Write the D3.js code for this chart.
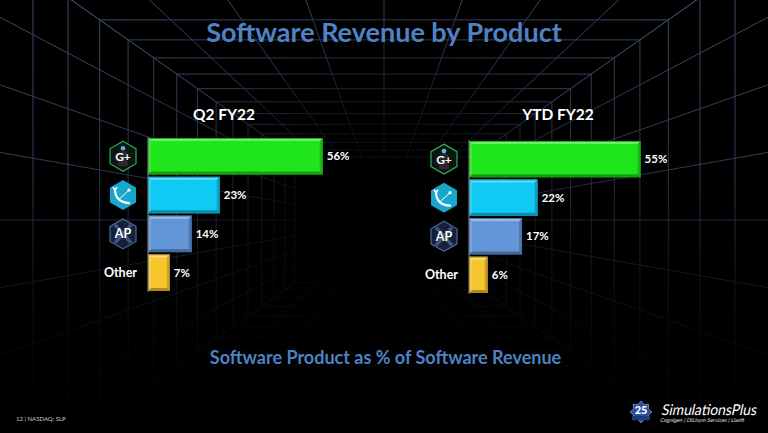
<!DOCTYPE html>
<html>
<head>
<meta charset="utf-8">
<script src="https://cdn.jsdelivr.net/npm/d3@7/dist/d3.min.js"></script>
<style>
  html, body { margin: 0; padding: 0; background: #000; }
  svg { display: block; }
  text { font-family: Lato, "Open Sans", "DejaVu Sans", sans-serif; }
</style>
</head>
<body>
<svg id="chart" width="768" height="433"></svg>
<script>
// ---------------- data ----------------
const categories = ["GastroPlus", "MonolixSuite", "ADMET Predictor", "Other"];
const q2Values = [56, 23, 14, 7];
const ytdValues = [55, 22, 17, 6];
const panelTitles = ["Q2 FY22", "YTD FY22"];
const barColors = ["#1fe51b", "#10caf3", "#6296d6", "#f6c62e"];
const barEdges = ["#159e12", "#0a8fb0", "#3f6aa3", "#b08a14"];
const mainTitle = "Software Revenue by Product";
const subTitle = "Software Product as % of Software Revenue";
const footerText = "12 | NASDAQ: SLP";

// ---------------- setup ----------------
const W = 768, H = 433;
const svg = d3.select("#chart");
svg.append("rect").attr("width", W).attr("height", H).attr("fill", "#000");
const defs = svg.append("defs");

// ---------------- background tunnel grid ----------------
const vx = 384, vy = 220, aspect = 0.704;
const lin = defs.append("linearGradient").attr("id", "vfade")
  .attr("gradientUnits", "userSpaceOnUse").attr("x1", 0).attr("y1", 0).attr("x2", 0).attr("y2", H);
[[0, 1], [0.4, 0.8], [0.62, 0.35], [0.78, 0.12], [1, 0.02]].forEach(([o, a]) =>
  lin.append("stop").attr("offset", o).attr("stop-color", "#fff").attr("stop-opacity", a));
defs.append("mask").attr("id", "mV").attr("maskUnits", "userSpaceOnUse")
  .attr("x", 0).attr("y", 0).attr("width", W).attr("height", H)
  .append("rect").attr("width", W).attr("height", H).attr("fill", "url(#vfade)");
const rad = defs.append("radialGradient").attr("id", "rfade")
  .attr("gradientUnits", "userSpaceOnUse").attr("cx", vx).attr("cy", vy).attr("r", 330);
[[0, 0.05], [0.3, 0.3], [0.6, 0.8], [1, 1]].forEach(([o, a]) =>
  rad.append("stop").attr("offset", o).attr("stop-color", "#fff").attr("stop-opacity", a));
defs.append("mask").attr("id", "mR").attr("maskUnits", "userSpaceOnUse")
  .attr("x", 0).attr("y", 0).attr("width", W).attr("height", H)
  .append("rect").attr("width", W).attr("height", H).attr("fill", "url(#rfade)");

const gridOuter = svg.append("g").attr("mask", "url(#mV)");
const grid = gridOuter.append("g").attr("mask", "url(#mR)")
  .attr("fill", "none").attr("stroke", "#3a4b6c").attr("stroke-width", 1);
const depthScale = d3.range(1, 15).map(k => 390 * Math.pow(0.9, k));
grid.selectAll("rect.ring").data(depthScale).join("rect").attr("class", "ring")
  .attr("x", w => vx - w).attr("y", w => vy - w * aspect)
  .attr("width", w => 2 * w).attr("height", w => 2 * w * aspect);
const Wf = 625, Hf = Wf * aspect, inner = depthScale[depthScale.length - 1] / Wf;
const rays = [];
d3.range(-4, 5).forEach(j => {
  rays.push([vx + Wf * j / 4, vy - Hf]);
  rays.push([vx + Wf * j / 4, vy + Hf]);
  rays.push([vx - Wf, vy + Hf * j / 4]);
  rays.push([vx + Wf, vy + Hf * j / 4]);
});
grid.selectAll("line.ray").data(rays).join("line").attr("class", "ray")
  .attr("x1", d => vx + (d[0] - vx) * inner).attr("y1", d => vy + (d[1] - vy) * inner)
  .attr("x2", d => d[0]).attr("y2", d => d[1]);

// ---------------- titles ----------------
svg.append("text").attr("x", 384).attr("y", 42).attr("text-anchor", "middle")
  .attr("font-size", 27).attr("font-weight", 700).attr("fill", "#4f82c4")
  .text(mainTitle);
svg.append("text").attr("x", 385.5).attr("y", 364).attr("text-anchor", "middle")
  .attr("font-size", 18).attr("font-weight", 700).attr("fill", "#4f82c4")
  .text(subTitle);
svg.append("text").attr("x", 16).attr("y", 421).attr("font-size", 6).attr("fill", "#c8c8c8")
  .text(footerText);

// ---------------- icons ----------------
function hexPath(r) {
  const pts = d3.range(6).map(i => {
    const a = Math.PI / 180 * (60 * i - 90);
    return [r * Math.cos(a), r * Math.sin(a)];
  });
  return d3.line()(pts) + "Z";
}
function drawIcon(g, cat) {
  if (cat === "GastroPlus") {
    g.append("path").attr("d", hexPath(15)).attr("fill", "#0b1511").attr("stroke", "#2bb04a").attr("stroke-width", 1.2);
    g.append("circle").attr("cx", 0).attr("cy", -8).attr("r", 2.3).attr("fill", "#5fb3e6");
    g.append("path").attr("d", "M-4,-5 L4,-5 L5,10 L-5,10 Z").attr("fill", "#3a2a3a").attr("opacity", 0.8);
    g.append("text").attr("x", 0).attr("y", 4.5).attr("text-anchor", "middle")
      .attr("font-size", 12).attr("font-weight", 700).attr("fill", "#fff").attr("stroke", "#0b1511").attr("stroke-width", 0.6)
      .attr("paint-order", "stroke").text("G+");
  } else if (cat === "MonolixSuite") {
    g.append("path").attr("d", hexPath(15)).attr("fill", "#17a6cc");
    g.append("path").attr("d", "M-8,-6 Q-8,7 6,8").attr("fill", "none").attr("stroke", "#fff").attr("stroke-width", 2.2).attr("stroke-linecap", "round");
    g.append("path").attr("d", "M-6,-8 L-8,-5 L-10,-8").attr("fill", "none").attr("stroke", "#fff").attr("stroke-width", 1.6);
    g.append("line").attr("x1", -5).attr("y1", 5).attr("x2", 5).attr("y2", -4).attr("stroke", "#fff").attr("stroke-width", 1);
    g.append("circle").attr("cx", 6).attr("cy", -5).attr("r", 1.6).attr("fill", "#fff");
  } else if (cat === "ADMET Predictor") {
    g.append("path").attr("d", hexPath(15)).attr("fill", "#16203a").attr("stroke", "#46699c").attr("stroke-width", 1.2);
    g.append("path").attr("d", "M-8,-9 L8,9 M8,-9 L-8,9").attr("stroke", "#3b5680").attr("stroke-width", 3.5);
    g.append("text").attr("x", 0).attr("y", 4.5).attr("text-anchor", "middle")
      .attr("font-size", 12.5).attr("font-weight", 700).attr("fill", "#fff").attr("stroke", "#16203a").attr("stroke-width", 0.6)
      .attr("paint-order", "stroke").text("AP");
  }
}

// ---------------- panels ----------------
const x = d3.scaleLinear().domain([0, 100]).range([0, 312]);
const panels = [
  { title: panelTitles[0], values: q2Values, axisX: 148, top: 138, bottom: 291, titleX: 224 },
  { title: panelTitles[1], values: ytdValues, axisX: 469, top: 141, bottom: 293, titleX: 558 }
];
panels.forEach(p => {
  const y = d3.scaleBand().domain(categories).range([p.top, p.bottom]).paddingInner(0.06);
  const g = svg.append("g").attr("transform", `translate(${p.axisX},0)`);
  const data = categories.map((c, i) => ({ cat: c, v: p.values[i], i }));
  const bw = y.bandwidth();
  const bars = g.selectAll("g.bar").data(data).join("g").attr("class", "bar");
  bars.each(function (d) {
    const b = d3.select(this);
    const x0 = x(0), x1 = x(d.v), y0 = y(d.cat), y1 = y0 + bw, e = 3;
    b.append("rect").attr("x", x0).attr("y", y0).attr("width", x1 - x0).attr("height", bw)
      .attr("fill", barColors[d.i]);
    const poly = (pts, fill, op) => b.append("path").attr("d", d3.line()(pts) + "Z").attr("fill", fill).attr("opacity", op);
    poly([[x0, y0], [x1, y0], [x1 - e, y0 + e], [x0 + e, y0 + e]], "#fff", 0.35);
    poly([[x0, y0], [x0 + e, y0 + e], [x0 + e, y1 - e], [x0, y1]], "#fff", 0.15);
    poly([[x1, y0], [x1, y1], [x1 - e, y1 - e], [x1 - e, y0 + e]], "#000", 0.18);
    poly([[x0, y1], [x0 + e, y1 - e], [x1 - e, y1 - e], [x1, y1]], "#000", 0.3);
    b.append("rect").attr("x", x0 + 0.4).attr("y", y0 + 0.4).attr("width", x1 - x0 - 0.8).attr("height", bw - 0.8)
      .attr("fill", "none").attr("stroke", barEdges[d.i]).attr("stroke-width", 0.8);
  });
  g.selectAll("text.val").data(data).join("text").attr("class", "val")
    .attr("x", d => x(d.v) + 4).attr("y", d => y(d.cat) + bw / 2 + 4.2)
    .attr("font-size", 11.5).attr("font-weight", 700).attr("fill", "#fff")
    .text(d => d.v + "%");
  g.append("line").attr("x1", 0).attr("x2", 0).attr("y1", p.top - 1).attr("y2", p.bottom + 1)
    .attr("stroke", "#8a8a8a").attr("stroke-width", 1);
  data.forEach(d => {
    const cy = y(d.cat) + bw / 2;
    if (d.cat === "Other") {
      g.append("text").attr("x", -11).attr("y", cy + 4.5).attr("text-anchor", "end")
        .attr("font-size", 12.5).attr("font-weight", 700).attr("fill", "#fff").text("Other");
    } else {
      const ig = g.append("g").attr("transform", `translate(-25,${cy})`);
      drawIcon(ig, d.cat);
    }
  });
  svg.append("text").attr("x", p.titleX).attr("y", 120).attr("text-anchor", "middle")
    .attr("font-size", 15.5).attr("font-weight", 700).attr("fill", "#fff").text(p.title);
});

// ---------------- logo ----------------
const logo = svg.append("g").attr("transform", "translate(641,412)");
const star = d3.range(16).map(i => {
  const a = Math.PI * 2 * i / 16 - Math.PI / 2, r = i % 2 ? 8 : 11;
  return [r * Math.cos(a), r * Math.sin(a)];
});
logo.append("path").attr("d", d3.line()(star) + "Z").attr("fill", "#2a4f9a").attr("stroke", "#9fb8e8").attr("stroke-width", 0.6);
logo.append("text").attr("x", 0).attr("y", 2).attr("text-anchor", "middle").attr("font-size", 11)
  .attr("font-weight", 900).attr("fill", "#fff").text("25");
logo.append("rect").attr("x", -9).attr("y", 4).attr("width", 18).attr("height", 4).attr("fill", "#1c3a7a");
const logoText = svg.append("g").attr("transform", "translate(659,415) skewX(-12)");
logoText.append("text").attr("x", 2).attr("y", 0).attr("font-size", 15)
  .attr("fill", "#fff").attr("font-family", "'Liberation Sans', 'DejaVu Sans', sans-serif")
  .attr("textLength", 95).attr("lengthAdjust", "spacingAndGlyphs")
  .text("SimulationsPlus");
logoText.append("text").attr("x", 2.5).attr("y", 7).attr("font-size", 5.4)
  .attr("fill", "#e0e0e0").attr("font-family", "'Liberation Sans', sans-serif")
  .attr("textLength", 84).attr("lengthAdjust", "spacingAndGlyphs")
  .text("Cognigen | DILIsym Services | Lixoft");
</script>
</body>
</html>
